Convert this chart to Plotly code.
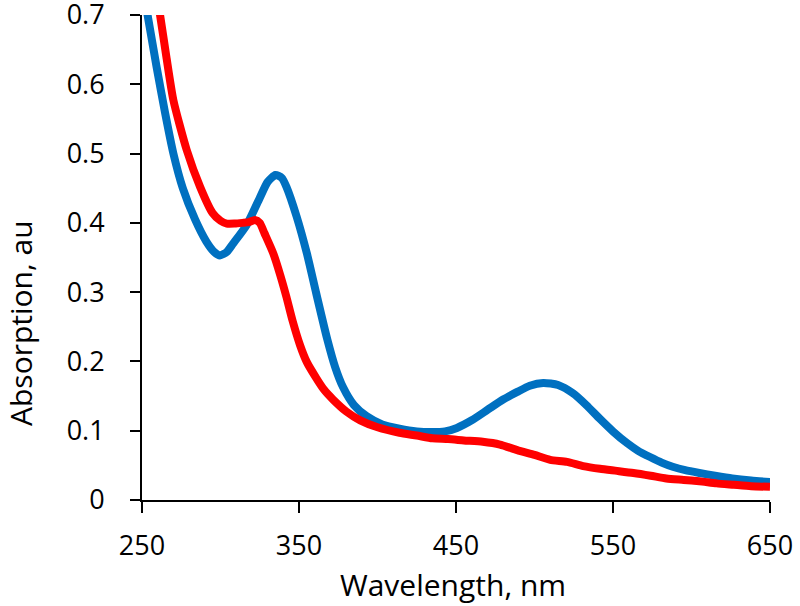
import plotly.graph_objects as go

blue_wl = [250, 253.4, 259.3, 264.6, 270, 276, 283.8, 291, 296, 299.7, 304, 308, 316.7, 325, 330, 335, 339, 342, 348.5, 355, 361, 368, 373, 378, 385, 393, 403, 414, 425, 435, 443, 450.6, 460, 470, 480, 489, 497, 505.6, 515, 524.5, 533, 541.7, 550, 559, 566, 573.6, 581, 588, 596, 605, 615, 626, 638, 650]
blue_abs = [0.745, 0.702, 0.625, 0.56, 0.50, 0.45, 0.405, 0.373, 0.358, 0.353, 0.358, 0.370, 0.397, 0.436, 0.459, 0.469, 0.465, 0.452, 0.409, 0.356, 0.298, 0.232, 0.192, 0.163, 0.137, 0.121, 0.109, 0.103, 0.099, 0.098, 0.099, 0.104, 0.115, 0.13, 0.145, 0.156, 0.165, 0.169, 0.166, 0.154, 0.137, 0.117, 0.099, 0.082, 0.071, 0.062, 0.054, 0.048, 0.043, 0.039, 0.035, 0.031, 0.028, 0.026]

red_wl = [258, 261.5, 265.5, 270, 278.5, 287, 295, 300, 304, 309, 314, 318, 322, 325, 328, 333.6, 338, 342, 346, 350.6, 355, 361, 366, 371.7, 380, 389, 400, 414, 425, 435, 445, 455, 467, 478, 489, 500, 510, 520.7, 531, 541.7, 552.5, 563, 574, 584, 595, 605, 616, 627, 638, 650]
red_abs = [0.75, 0.70, 0.64, 0.577, 0.505, 0.452, 0.414, 0.403, 0.399, 0.399, 0.40, 0.401, 0.404, 0.400, 0.385, 0.356, 0.325, 0.293, 0.258, 0.224, 0.199, 0.176, 0.159, 0.145, 0.128, 0.115, 0.105, 0.097, 0.093, 0.089, 0.088, 0.086, 0.084, 0.080, 0.072, 0.065, 0.058, 0.055, 0.049, 0.045, 0.042, 0.039, 0.035, 0.031, 0.029, 0.027, 0.024, 0.022, 0.020, 0.019]

x_ticks = [250, 350, 450, 550, 650]
y_ticks = [0, 0.1, 0.2, 0.3, 0.4, 0.5, 0.6, 0.7]
y_labels = ["0", "0.1", "0.2", "0.3", "0.4", "0.5", "0.6", "0.7"]
x_title = "Wavelength, nm"
y_title = "Absorption, au"

fig = go.Figure()
fig.add_trace(go.Scatter(x=blue_wl, y=blue_abs, mode="lines",
                         line=dict(color="#0070C0", width=8, shape="spline", smoothing=0.6),
                         showlegend=False, cliponaxis=True))
fig.add_trace(go.Scatter(x=red_wl, y=red_abs, mode="lines",
                         line=dict(color="#FF0000", width=8, shape="spline", smoothing=0.6),
                         showlegend=False, cliponaxis=True))

tick_font = dict(family="Open Sans", size=27, color="black")
title_font = dict(family="Open Sans", size=30, color="black")
fig.update_layout(
    width=800, height=606,
    margin=dict(l=142, r=30, t=15, b=106),
    paper_bgcolor="white", plot_bgcolor="white",
    font=title_font,
    xaxis=dict(range=[250, 650], tickvals=x_ticks, ticktext=[str(v) for v in x_ticks],
               showline=True, linecolor="black", linewidth=2, ticks="outside", ticklen=11,
               tickwidth=2, tickcolor="black", showgrid=False, zeroline=False,
               automargin=False, ticklabelstandoff=10, ticklabeloverflow="allow",
               tickfont=tick_font),
    yaxis=dict(range=[0, 0.7], tickvals=y_ticks, ticktext=y_labels,
               showline=True, linecolor="black", linewidth=2, ticks="outside", ticklen=10,
               tickwidth=2, tickcolor="black", showgrid=False, zeroline=False,
               automargin=False, ticklabelstandoff=20, ticklabeloverflow="allow",
               tickfont=tick_font),
    annotations=[
        dict(text=x_title, xref="paper", yref="paper", x=0.495, y=0, yshift=-84,
             xanchor="center", yanchor="middle", showarrow=False, font=title_font),
        dict(text=y_title, xref="paper", yref="paper", x=0, y=0.365, xshift=-121,
             xanchor="center", yanchor="middle", textangle=-90, showarrow=False,
             borderpad=0, font=title_font),
    ],
)
fig.write_html("out.html", config={"displayModeBar": False},
               post_script="document.body.style.margin='0';document.body.style.overflow='hidden';")
